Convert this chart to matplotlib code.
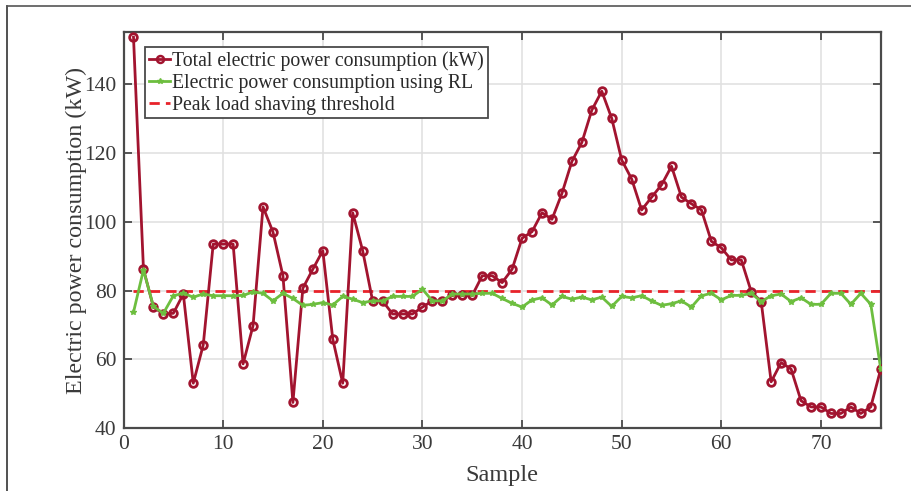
# Electric power consumption vs sample, with RL peak shaving
import matplotlib
matplotlib.use('Agg')
from matplotlib import pyplot as plt
from matplotlib.lines import Line2D
import numpy as np

# Data
samples = np.arange(1, 77)
total_power = [153.6, 86.2, 75.2, 73.2, 73.4, 79.0, 53.1, 64.2, 93.5, 93.5,
               93.5, 58.7, 69.8, 104.3, 97.0, 84.3, 47.5, 80.7, 86.2, 91.6,
               65.9, 53.1, 102.6, 91.6, 77.0, 77.0, 73.2, 73.2, 73.2, 75.2,
               77.0, 77.0, 78.6, 78.6, 78.6, 84.3, 84.3, 82.3, 86.2, 95.2,
               97.1, 102.6, 100.7, 108.2, 117.5, 123.0, 132.4, 137.9, 130.0, 117.9,
               112.4, 103.4, 107.1, 110.7, 116.1, 107.1, 105.2, 103.4, 94.3, 92.4,
               88.9, 88.9, 79.7, 76.8, 53.5, 59.1, 57.2, 48.0, 46.2, 46.2,
               44.3, 44.3, 46.2, 44.3, 46.2, 57.2]
rl_power = [73.7, 86.0, 75.4, 73.4, 78.5, 79.2, 78.1, 79.0, 78.5, 78.5,
            78.5, 78.6, 79.6, 79.2, 77.0, 79.2, 77.7, 75.7, 76.0, 76.5,
            75.8, 78.3, 77.5, 76.5, 77.0, 77.0, 78.3, 78.3, 78.3, 80.4,
            77.0, 77.0, 79.0, 79.0, 79.0, 79.2, 79.2, 77.7, 76.3, 75.2,
            77.3, 77.9, 75.8, 78.3, 77.5, 78.1, 77.3, 78.1, 75.4, 78.3,
            77.9, 78.5, 77.0, 75.7, 76.2, 77.0, 75.2, 78.5, 79.2, 77.3,
            78.6, 78.6, 79.2, 76.8, 78.5, 79.0, 76.8, 77.9, 76.0, 76.0,
            79.2, 79.2, 76.0, 79.2, 76.0, 57.2]
threshold = 80

plt.rcParams['font.family'] = ['Liberation Serif', 'DejaVu Serif']

red = '#A2142F'
green = '#6DBE3F'
dash_red = '#E8232A'
spine = '#4a4a4a'

fig = plt.figure(figsize=(9.11, 4.91), dpi=100)
ax = fig.add_axes([0.1356, 0.1277, 0.8312, 0.8065])

ax.plot(samples, total_power, color=red, lw=2, marker='o', ms=5.5,
        mfc='none', mec=red, mew=2, zorder=3)
ax.plot(samples, rl_power, color=green, lw=2, marker='*', ms=4,
        mec=green, zorder=4)
ax.plot([samples[0], samples[-1]], [threshold, threshold], color=dash_red,
        lw=2, dashes=(3.7, 2.2), zorder=2)

ax.set_xlim(0, 76)
ax.set_ylim(40, 155)
ax.set_xticks(np.arange(0, 71, 10))
ax.set_yticks(np.arange(40, 141, 20))
ax.grid(True, color='#e1e1e1', lw=1.2)
ax.set_axisbelow(True)
ax.tick_params(direction='in', length=6, width=1.3, colors=spine,
               labelcolor='#3a3a3a', labelsize=15.5, top=True, right=True, pad=5)
for s in ax.spines.values():
    s.set_color(spine)
    s.set_linewidth(1.6)

ax.set_xlabel('Sample', fontsize=17.5, color='#3a3a3a', labelpad=8)
ax.set_ylabel('Electric power consumption (kW)', fontsize=17.3, color='#3a3a3a', labelpad=-2)

handles = [
    Line2D([], [], color=red, lw=2, marker='o', ms=5, mfc='none', mec=red, mew=1.8),
    Line2D([], [], color=green, lw=2, marker='*', ms=4, mec=green),
    Line2D([], [], color=dash_red, lw=2, dashes=(3.7, 2.2)),
]
labels = ['Total electric power consumption (kW)',
          'Electric power consumption using RL',
          'Peak load shaving threshold']
leg = ax.legend(handles, labels, loc='upper left', bbox_to_anchor=(0.028, 0.963),
                fontsize=14.2, handlelength=1.1, handletextpad=0.1,
                borderpad=0.2, labelspacing=0.15, borderaxespad=0,
                fancybox=False, framealpha=1)
leg.get_frame().set_edgecolor(spine)
leg.get_frame().set_linewidth(1.3)
for t in leg.get_texts():
    t.set_color('#2a2a2a')

# partial frame around the figure (as in the screenshot)
fig.add_artist(Line2D([7 / 911, 7 / 911], [0, 1 - 6 / 491], color='#333333', lw=1.2))
fig.add_artist(Line2D([7 / 911, 1], [1 - 6 / 491, 1 - 6 / 491], color='#555555', lw=1.2))

fig.savefig('out.png', dpi=100)
